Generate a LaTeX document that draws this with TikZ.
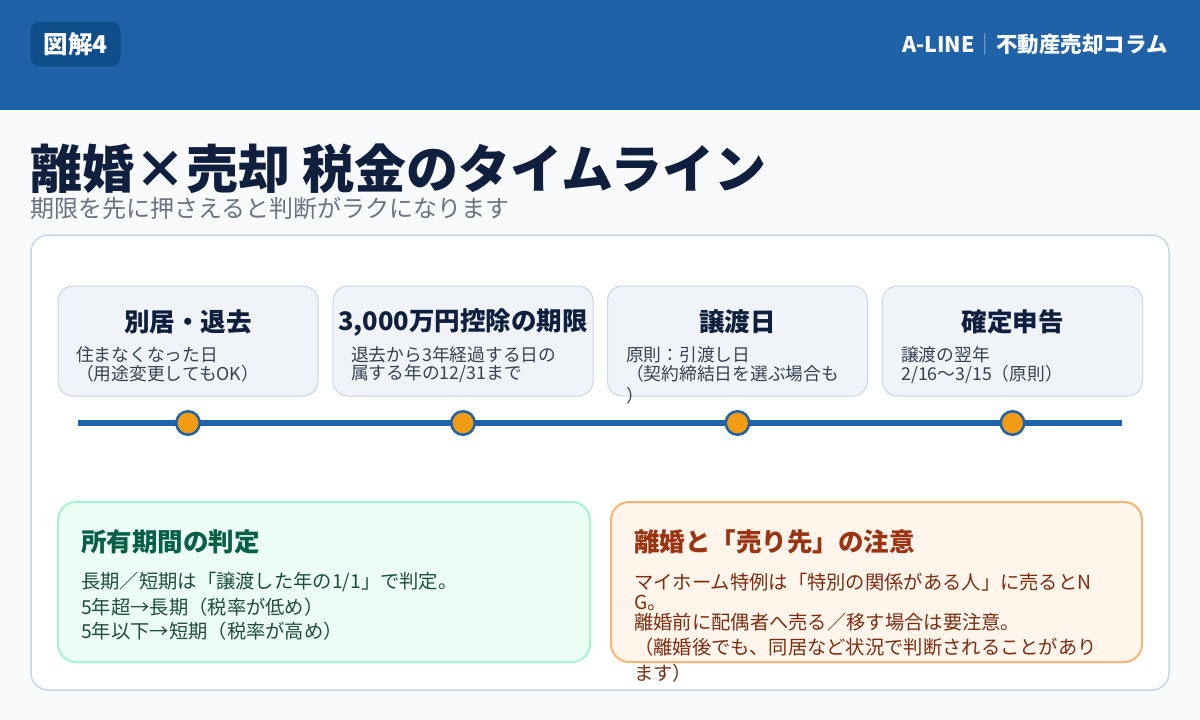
\documentclass[tikz,border=0pt]{standalone}
\usepackage{fontspec}
\setmainfont{Noto Sans CJK JP}
\usetikzlibrary{positioning}
\definecolor{hdrblue}{HTML}{1F62A7}
\definecolor{badgeblue}{HTML}{0F4E8A}
\definecolor{hdrbar}{HTML}{8FB0D6}
\definecolor{pagebg}{HTML}{F8FAFC}
\definecolor{navy}{HTML}{0F1F3D}
\definecolor{subgray}{HTML}{6B7280}
\definecolor{linegray}{HTML}{CBD5E1}
\definecolor{cardfill}{HTML}{F0F4F9}
\definecolor{bodygray}{HTML}{374151}
\definecolor{dotorange}{HTML}{F39C12}
\definecolor{mintfill}{HTML}{ECFDF5}
\definecolor{mintline}{HTML}{A7F3D0}
\definecolor{mintdark}{HTML}{065F46}
\definecolor{mintbody}{HTML}{1F4D3D}
\definecolor{peachfill}{HTML}{FFF5EB}
\definecolor{peachline}{HTML}{F8B471}
\definecolor{rustdark}{HTML}{9A3412}
\definecolor{rustbody}{HTML}{7C2D12}
\tikzset{
  cardbox/.style={draw=linegray, fill=cardfill, line width=1pt, rounded corners=15pt,
    minimum width=260pt, minimum height=110pt, inner sep=0pt},
  cardtitle/.style={font=\bfseries\fontsize{25.5}{30}\selectfont, text=navy, inner sep=0pt},
  cardtext/.style={font=\fontsize{17.75}{21}\selectfont, text=bodygray, inner sep=0pt, anchor=west},
  tldot/.style={circle, fill=dotorange, draw=hdrblue, line width=2.5pt, minimum size=23.5pt, inner sep=0pt},
  notebox/.style={line width=2pt, rounded corners=18pt, minimum width=532pt, minimum height=160pt, inner sep=0pt},
  notetitle/.style={font=\bfseries\fontsize{25.5}{30}\selectfont, inner sep=0pt, anchor=west},
  notetext/.style={font=\fontsize{19.3}{23}\selectfont, inner sep=0pt, anchor=west}
}
\begin{document}
\begin{tikzpicture}[x=1pt,y=-1pt]
	\useasboundingbox (0,0) rectangle (1200,720);
	\fill[pagebg] (0,0) rectangle (1200,720);
	% Header
	\fill[hdrblue] (0,0) rectangle (1200,110);
	\node[fill=badgeblue, rounded corners=10pt, minimum width=90pt, minimum height=45pt, inner sep=0pt,
		text=white, font=\bfseries\fontsize{24.5}{28}\selectfont] (badge) at (75.5,44) {図解4};
	\node[anchor=east, inner sep=0pt, text=white, font=\bfseries\fontsize{21.5}{26}\selectfont] (brand) at (1168,44)
		{A-LINE\textcolor{hdrbar}{\mdseries｜}不動産売却コラム};
	% Title
	\node[anchor=west, inner sep=0pt, text=navy, font=\bfseries\fontsize{52}{60}\selectfont] (title) at (30,169)
		{離婚×売却 税金のタイムライン};
	\node[anchor=west, inner sep=0pt, text=subgray, font=\fontsize{24}{28}\selectfont] (subtitle) at (30,208.5)
		{期限を先に押さえると判断がラクになります};
	% Panel
	\draw[linegray, line width=1.5pt, fill=white, rounded corners=17pt] (31,235) rectangle (1169,690);
	% Cards
	\foreach \n/\x/\ttl in {sep/188/別居・退去, ded/463/{3,000万円控除の期限}, xfer/737.5/譲渡日, filing/1012.5/確定申告}{
		\node[cardbox] (\n) at (\x,341) {};
		\node[cardtitle] (\n-t) at (\x,322) {\ttl};
	}
	\foreach \x/\y/\t [count=\i] in {76/355/住まなくなった日, 76/374/（用途変更してもOK）,
		351/355/退去から3年経過する日の, 351/374/{属する年の12/31まで},
		626/355/原則：引渡し日, 626/374/（契約締結日を選ぶ場合も, 626/396/）,
		901/355/譲渡の翌年, 901/374/{2/16〜3/15（原則）}}{
		\node[cardtext] (line\i) at (\x,\y) {\t};
	}
	% Timeline
	\coordinate (tl-start) at (78,423);
	\coordinate (tl-end) at (1122,423);
	\draw[hdrblue, line width=6pt] (tl-start) -- (tl-end);
	\foreach \n in {sep,ded,xfer,filing}{
		\node[tldot] (\n-dot) at (\n |- tl-start) {};
	}
	% Holding period
	\node[notebox, draw=mintline, fill=mintfill] (hold) at (324,582) {};
	\node[notetitle, text=mintdark] (hold-t) at (81,542) {所有期間の判定};
	\foreach \y/\t [count=\i] in {582/{長期／短期は「譲渡した年の1/1」で判定。}, 607/5年超→長期（税率が低め）, 631/5年以下→短期（税率が高め）}{
		\node[notetext, text=mintbody] (hold\i) at (81,\y) {\t};
	}
	% Buyer caution
	\node[notebox, draw=peachline, fill=peachfill, minimum width=531pt] (warn) at (876.5,582) {};
	\node[notetitle, text=rustdark] (warn-t) at (634,542) {離婚と「売り先」の注意};
	\foreach \y/\t [count=\i] in {582/マイホーム特例は「特別の関係がある人」に売るとN, 603/G。, 622/離婚前に配偶者へ売る／移す場合は要注意。,
		647/（離婚後でも、同居など状況で判断されることがあり, 673/ます）}{
		\node[notetext, text=rustbody] (warn\i) at (634,\y) {\t};
	}
\end{tikzpicture}
\end{document}
